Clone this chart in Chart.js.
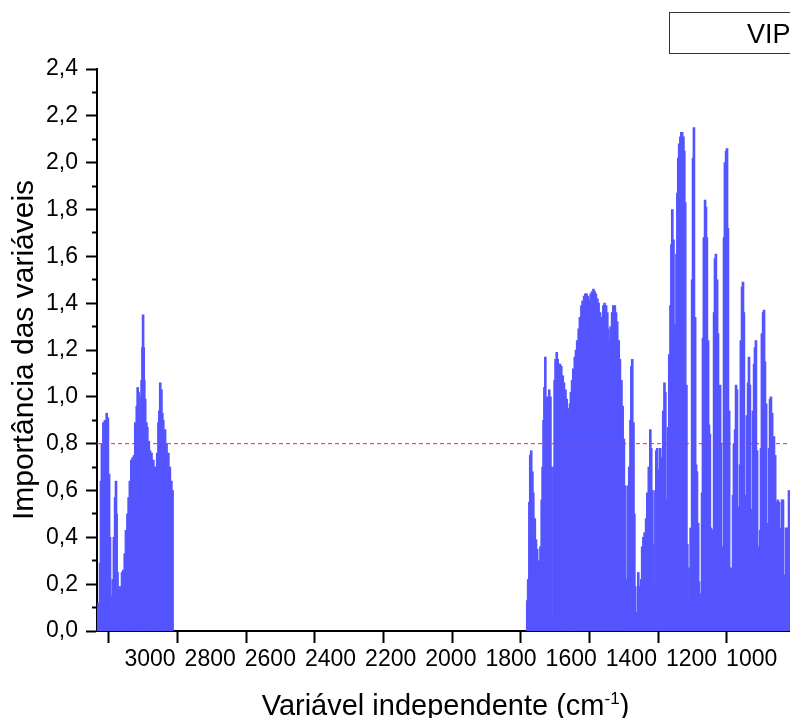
<!DOCTYPE html>
<html><head><meta charset="utf-8">
<style>
html,body{margin:0;padding:0;overflow:hidden;background:#fff;width:790px;height:718px;}
canvas{display:block;}
</style>
<script src="https://cdn.jsdelivr.net/npm/chart.js@4.4.1/dist/chart.umd.min.js"></script>
</head><body>
<canvas id="c" width="810" height="718"></canvas>
<script>
// ---- DATA: [wavenumber (cm-1), VIP] ----
const vipCH = [
[3175,0.10],[3171,0.12],[3166,0.29],[3163,0.64],[3160,0.80],[3155,0.89],[3150,0.90],[3144,0.93],[3140,0.91],[3136,0.67],
[3133,0.40],[3131,0.15],[3127,0.09],[3124,0.22],[3120,0.40],[3116,0.57],[3113,0.64],[3111,0.50],[3108,0.25],[3105,0.19],[3102,0.17],
[3098,0.19],[3093,0.25],[3089,0.26],[3084,0.33],[3080,0.43],[3075,0.50],[3071,0.57],[3067,0.64],[3062,0.73],[3058,0.74],
[3053,0.75],[3049,0.89],[3044,0.96],[3041,1.04],[3038,1.02],[3034,0.93],[3032,0.83],[3030,1.00],[3028,1.07],[3025,1.21],
[3023,1.35],[3021,1.21],[3019,1.07],[3016,0.99],[3012,0.89],[3009,0.87],[3004,0.81],[3000,0.77],[2995,0.76],[2989,0.73],
[2983,0.70],[2980,0.70],[2976,0.76],[2972,0.89],[2969,0.94],[2966,1.06],[2962,1.03],[2959,0.93],[2956,0.90],[2950,0.86],
[2945,0.80],[2939,0.76],[2934,0.70],[2929,0.64],[2925,0.60]
];
const vipFingerprintA = [
[1746,0.13],[1743,0.22],[1739,0.55],[1736,0.75],[1733,0.77],[1729,0.68],[1726,0.59],[1721,0.48],[1717,0.39],[1713,0.35],
[1708,0.30],[1705,0.26],[1702,0.36],[1698,0.56],[1695,0.70],[1692,0.90],[1689,1.04],[1686,1.17],[1683,0.97],[1679,1.00],
[1676,0.97],[1673,1.03],[1669,1.00],[1666,0.70],[1663,0.05],[1659,0.70],[1655,1.07],[1652,1.16],[1648,1.19],[1645,1.16],
[1642,1.14],[1637,1.14],[1633,1.13],[1628,1.09],[1624,1.06],[1619,1.03],[1615,0.99],[1611,0.95],[1607,0.94],[1604,0.97],
[1601,1.02],[1597,1.07],[1593,1.12],[1588,1.17],[1584,1.20],[1580,1.24],[1575,1.29],[1571,1.34],[1566,1.39],[1562,1.41],
[1557,1.43],[1553,1.44],[1549,1.44],[1544,1.43],[1540,1.41],[1535,1.44],[1531,1.45],[1526,1.46],[1522,1.45],[1518,1.44],
[1513,1.42],[1509,1.40],[1504,1.36],[1500,1.33],[1497,1.34],[1493,1.39],[1489,1.40],[1484,1.39],[1480,1.36],[1477,1.29],
[1473,1.24],[1469,1.30],[1464,1.36],[1460,1.39],[1455,1.39],[1451,1.36],[1447,1.32],[1442,1.24],[1438,1.16],[1433,1.07],
[1429,0.96],[1425,0.82],[1420,0.62],[1416,0.22],[1413,0.03],[1410,0.62],[1407,0.70],[1403,0.90],[1400,1.13],[1397,1.16],
[1393,0.89],[1390,0.50],[1387,0.19],[1383,0.08],[1380,0.05],[1377,0.25],[1374,0.19],[1370,0.08],[1367,0.22],[1364,0.36],
[1360,0.40],[1356,0.42],[1351,0.48],[1347,0.59],[1342,0.70]
];
const vipFingerprintB = [
[1337,0.86],[1334,0.78],[1330,0.60],[1327,0.37],[1324,0.18],[1320,0.60],[1317,0.77],[1314,0.78],[1310,0.16],[1307,0.69],
[1304,0.78],[1300,0.74],[1297,0.50],[1294,0.94],[1290,1.06],[1287,1.02],[1283,0.56],[1278,0.87],[1274,1.18],[1270,1.39],
[1267,1.65],[1264,1.80],[1260,1.67],[1257,1.15],[1254,1.31],[1250,1.61],[1247,1.87],[1244,2.02],[1241,2.08],[1237,2.11],
[1234,2.13],[1231,2.13],[1227,2.11],[1224,2.05],[1221,1.83],[1217,1.05],[1214,0.37],[1211,0.13],[1207,0.27],[1203,0.44],
[1198,1.50],[1195,2.02],[1192,2.15],[1188,1.34],[1185,0.71],[1182,0.68],[1178,0.46],[1175,0.21],[1172,0.07],[1169,0.16],
[1165,0.59],[1162,1.25],[1159,1.68],[1155,1.84],[1152,1.81],[1149,1.68],[1145,1.24],[1142,0.88],[1139,0.84],[1135,0.44],
[1132,0.15],[1129,0.43],[1125,1.36],[1122,1.59],[1119,1.61],[1115,1.50],[1112,1.27],[1109,0.78],[1105,1.05],[1102,0.80],
[1099,0.36],[1095,0.09],[1092,1.68],[1089,2.00],[1085,2.05],[1082,2.06],[1079,1.72],[1075,0.94],[1072,0.25],[1069,0.27],
[1065,0.13],[1062,0.58],[1059,0.80],[1055,0.86],[1052,1.05],[1049,1.03],[1046,0.53],[1042,0.21],[1039,0.71],[1036,1.24],
[1032,1.47],[1029,1.49],[1026,1.36],[1022,0.58],[1019,0.52],[1016,0.92],[1012,1.06],[1009,1.17],[1006,1.05],[1002,0.52],
[999,0.52],[996,0.94],[992,1.14],[989,1.21],[986,1.24],[982,0.77],[979,0.36],[976,0.10],[972,0.43],[969,0.78],
[966,1.27],[962,1.36],[959,1.37],[956,1.15],[952,0.97],[949,0.46],[946,0.41],[942,0.78],[939,0.99],[936,1.00],
[932,0.93],[929,0.81],[926,0.83],[922,0.75],[919,0.55],[916,0.19],[913,0.56],[909,0.55],[906,0.19],[903,0.44],
[899,0.56],[896,0.56],[893,0.24],[889,0.22],[886,0.44],[883,0.44],[879,0.24],[876,0.60],[873,0.57]
];
const vipThreshold = 0.8;
const xTickValues = [3000,2800,2600,2400,2200,2000,1800,1600,1400,1200,1000];
const xTickMarkValues = [3000,2800,2600,2400,2200,2000,1800,1600,1400,1200];
const yTickLabels = ['0,0','0,2','0,4','0,6','0,8','1,0','1,2','1,4','1,6','1,8','2,0','2,2','2,4'];
const xRange = [859.4, 3176.2];       // axis carrying the labels and the data
const xMarkRange = [1004.1, 3034.1];  // axis carrying the tick marks
const seriesLabel = 'VIP';
const yTitle = 'Importância das variáveis';
const xTitleMain = 'Variável independente (cm';
const xTitleSup = '-1';
const xTitleEnd = ')';

// ---- CHART ----
const FONT = "'Liberation Sans', Arial, Helvetica, sans-serif";
Chart.defaults.font.family = FONT;
Chart.defaults.color = '#000';

const vipPoints = [...vipCH, ...vipFingerprintA, ...vipFingerprintB].map(p => ({x: p[0], y: p[1]}));
const thresholdPoints = [{x: xRange[1], y: vipThreshold}, {x: xRange[0], y: vipThreshold}];

const overlay = {
  id: 'overlay',
  afterDraw(chart) {
    const {ctx, chartArea} = chart;
    ctx.save();
    ctx.fillStyle = '#000';
    ctx.textAlign = 'left';
    ctx.textBaseline = 'alphabetic';
    const mainF = '29px ' + FONT, supF = '17px ' + FONT;
    ctx.font = mainF;
    const w1 = ctx.measureText(xTitleMain).width, w3 = ctx.measureText(xTitleEnd).width;
    ctx.font = supF;
    const w2 = ctx.measureText(xTitleSup).width;
    const x0 = (chartArea.left + chartArea.right) / 2 - (w1 + w2 + w3) / 2;
    const base = chart.height - 3;
    ctx.font = mainF; ctx.fillText(xTitleMain, x0, base);
    ctx.font = supF;  ctx.fillText(xTitleSup, x0 + w1, base - 11);
    ctx.font = mainF; ctx.fillText(xTitleEnd, x0 + w1 + w2, base);
    // legend box
    ctx.strokeStyle = '#333';
    ctx.lineWidth = 1;
    ctx.strokeRect(669.5, 12.5, 200, 41);
    ctx.font = '27px ' + FONT;
    ctx.fillText(seriesLabel, 747, 43);
    ctx.restore();
  }
};

new Chart(document.getElementById('c'), {
  type: 'bar',
  data: {
    datasets: [
      {type: 'line', label: 'limite', data: thresholdPoints, borderColor: '#f02828', borderWidth: 1,
       borderDash: [4, 3], pointRadius: 0, fill: false, order: 0, xAxisID: 'x', yAxisID: 'y'},
      {type: 'bar', label: seriesLabel, data: vipPoints, backgroundColor: '#5555ff', borderWidth: 0,
       barThickness: 2, order: 1, xAxisID: 'x', yAxisID: 'y'}
    ]
  },
  options: {
    responsive: false, animation: false, devicePixelRatio: 1,
    layout: {padding: {left: 0, top: 69, right: 16, bottom: 0}},
    plugins: {legend: {display: false}, tooltip: {enabled: false}},
    scales: {
      x: {
        type: 'linear', position: 'bottom', reverse: true, min: xRange[0], max: xRange[1],
        offset: false, weight: 1,
        grid: {display: false, drawTicks: false, offset: false},
        border: {display: false},
        ticks: {autoSkip: false, maxRotation: 0, padding: 3, font: {size: 23}, color: '#000',
                callback: v => String(v)},
        afterBuildTicks: s => { s.ticks = xTickValues.map(v => ({value: v})); },
        afterFit: s => { s.height = 75; }
      },
      xt: {
        type: 'linear', position: 'bottom', reverse: true, min: xMarkRange[0], max: xMarkRange[1],
        offset: false, weight: 0,
        grid: {display: true, drawOnChartArea: false, drawTicks: true, tickLength: 12, tickWidth: 2,
               tickColor: '#000', offset: false},
        border: {display: true, width: 2, color: '#000'},
        ticks: {display: false},
        afterBuildTicks: s => { s.ticks = xTickMarkValues.map(v => ({value: v})); },
        afterFit: s => { s.height = 12; }
      },
      y: {
        type: 'linear', position: 'left', min: 0, max: 2.4,
        grid: {drawOnChartArea: false, tickLength: 11, tickWidth: 2, tickColor: '#000',
               tickBorderDash: c => (c.tick && Math.round(c.tick.value * 10) % 2 === 1) ? [0, 6, 100] : []},
        border: {display: true, width: 2, color: '#000'},
        ticks: {stepSize: 0.1, autoSkip: false, padding: 8, font: {size: 23}, color: '#000',
                callback: v => { const k = Math.round(v * 10); return k % 2 === 0 ? yTickLabels[k / 2] : ''; }},
        title: {display: true, text: yTitle, font: {size: 30}, color: '#000', padding: {top: 7, bottom: 0}},
        afterFit: s => { s.width = 97; }
      }
    }
  },
  plugins: [overlay]
});
</script>
</body></html>
